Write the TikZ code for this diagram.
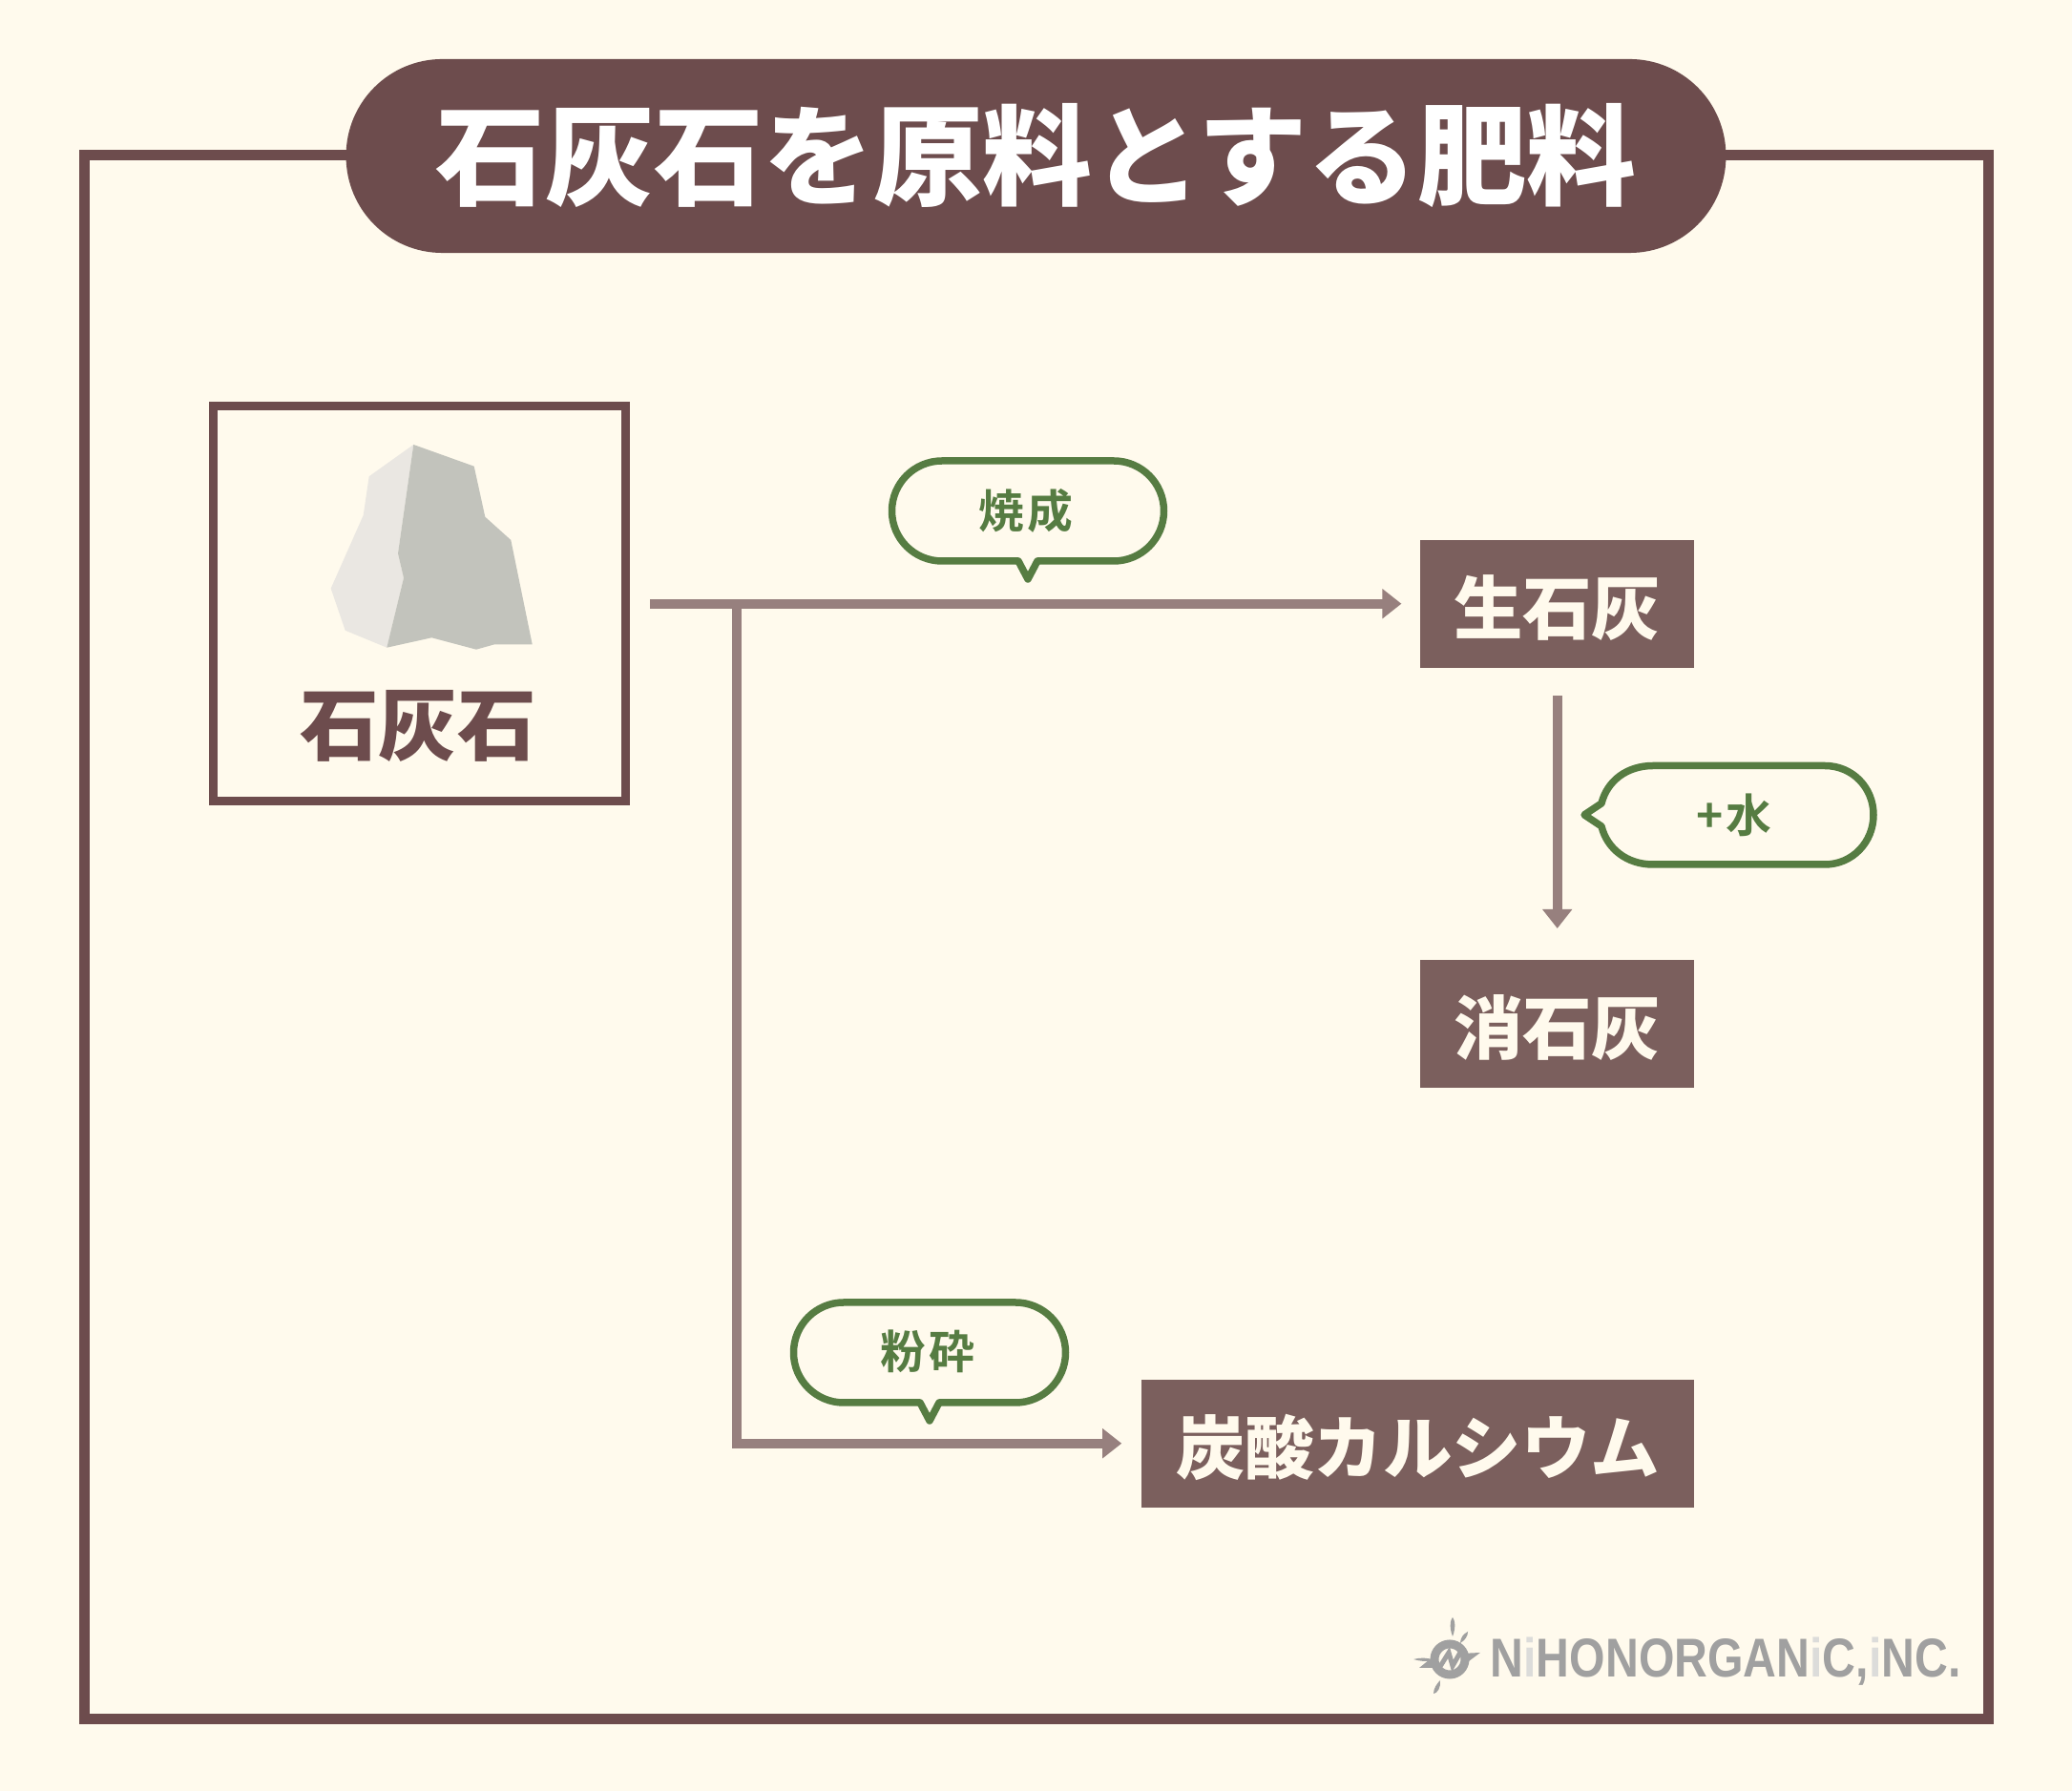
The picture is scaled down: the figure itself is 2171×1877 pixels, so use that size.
\documentclass[tikz,border=0pt]{standalone}
\usepackage{fontspec}
\setmainfont{Noto Sans CJK JP}[BoldFont={Noto Sans CJK JP Black}]
\newfontfamily\jp{Noto Sans CJK JP}[BoldFont={Noto Sans CJK JP Black}]
\newfontfamily\jpsp{Noto Sans CJK JP}[BoldFont={Noto Sans CJK JP Bold},LetterSpace=6]
\newfontfamily\logofont{Liberation Sans}
\usetikzlibrary{arrows.meta}
\definecolor{bgc}{HTML}{FFFAED}
\definecolor{brownc}{HTML}{6D4C4D}
\definecolor{boxc}{HTML}{7B5F5D}
\definecolor{arrowc}{HTML}{97807E}
\definecolor{greenc}{HTML}{567C42}
\definecolor{rockl}{HTML}{EAE7E2}
\definecolor{rockd}{HTML}{C2C3BC}
\definecolor{logoc}{HTML}{A0A0A0}
\definecolor{logol}{HTML}{DCDCDA}
\tikzset{
  x=0.01cm,y=-0.01cm,
  px/.style={line width=#1*0.01cm},
  frameline/.style={draw=brownc,px=11},
  flow/.style={draw=arrowc,px=10,-{Triangle[length=0.2cm,width=0.3cm]}},
  bubble/.style={draw=greenc,px=7.5,line join=round},
  bubbletext/.style={text=greenc,font=\jpsp\bfseries\fontsize{13.6pt}{14pt}\selectfont,inner sep=0pt},
  chem/.style={fill=boxc,text=bgc,font=\jp\bfseries\fontsize{20.6pt}{22pt}\selectfont,inner sep=0pt,minimum height=1.34cm,anchor=north east,text height=0.7cm,text depth=0.07cm},
}
\begin{document}
\begin{tikzpicture}
\fill[bgc] (0,0) rectangle (2171,1877);
\useasboundingbox (0,0) rectangle (2171,1877);
% outer frame
\draw[frameline] (88.5,162.5) rectangle (2083.5,1801.5);
% title
\node[fill=brownc,text=white,rounded corners=1.01cm,minimum width=14.45cm,minimum height=2.03cm,inner sep=0pt,font=\jp\bfseries\fontsize{32.6pt}{34pt}\selectfont] (title) at (1085.5,163.5) {石灰石を原料とする肥料};
% limestone box
\node[draw=brownc,px=9,minimum width=4.32cm,minimum height=4.14cm,inner sep=0pt] (lime) at (439.5,632.5) {};
\fill[rockl] (433.3,466) -- (386.7,499.3) -- (380.7,540) -- (346.7,616.7) -- (361.7,660.7) -- (405.3,678.7) -- (423,605.7) -- (417,580) -- cycle;
\fill[rockd] (433.3,466) -- (496.7,488.7) -- (508.3,541.7) -- (535.3,566) -- (557.7,675.3) -- (518.3,675.3) -- (499,680.7) -- (452.3,668.3) -- (405.3,678.7) -- (423,605.7) -- (417,580) -- cycle;
\node[text=brownc,inner sep=0pt,font=\jp\bfseries\fontsize{23.5pt}{25pt}\selectfont] (limelabel) at (438,761) {石灰石};
% product boxes
\node[chem,minimum width=2.87cm] (quick) at (1776,565) {生石灰};
\node[chem,minimum width=2.87cm] (slaked) at (1776,1005) {消石灰};
\node[chem,minimum width=5.79cm] (calc) at (1776,1445) {炭酸カルシウム};
% connectors
\coordinate (branch) at (772,632);
\draw[flow,shorten <=0.21cm,shorten >=0.19cm] (lime.east |- quick.west) -- (quick.west);
\draw[flow,shorten >=0.20cm] (branch) |- (calc.west);
\draw[flow,shorten <=0.29cm,shorten >=0.32cm] (quick.south) -- (slaked.north);
% bubble: firing
\draw[bubble] (987,483) -- (1167,483) .. controls (1196,483) and (1219.5,506.5) .. (1219.5,535.5) .. controls (1219.5,564.5) and (1196,588) .. (1167,588) -- (1087,588) -- (1077,607) -- (1067,588) -- (987,588) .. controls (958,588) and (934.5,564.5) .. (934.5,535.5) .. controls (934.5,506.5) and (958,483) .. (987,483) -- cycle;
\node[bubbletext] (fire) at (1075,535) {焼成};
% bubble: crushing
\begin{scope}[shift={(-103,882)}]
\draw[bubble] (987,483) -- (1167,483) .. controls (1196,483) and (1219.5,506.5) .. (1219.5,535.5) .. controls (1219.5,564.5) and (1196,588) .. (1167,588) -- (1087,588) -- (1077,607) -- (1067,588) -- (987,588) .. controls (958,588) and (934.5,564.5) .. (934.5,535.5) .. controls (934.5,506.5) and (958,483) .. (987,483) -- cycle;
\node[bubbletext] (crush) at (1075,534) {粉砕};
\end{scope}
% bubble: water
\draw[bubble] (1732,802.5) -- (1912,802.5) .. controls (1941,802.5) and (1963,825.5) .. (1963,854) .. controls (1963,882.5) and (1941,906) .. (1912,906) -- (1732,906) .. controls (1705,906) and (1684,890) .. (1678,866) -- (1660,854) -- (1678,842) .. controls (1684,818) and (1705,802.5) .. (1732,802.5) -- cycle;
\node[bubbletext] (water) at (1817,854) {+\kern0.02cm 水};
% logo
\begin{scope}
\draw[logoc,px=9] (1519,1739) circle (16);
\draw[logoc,px=5,line cap=round] (1508,1748) -- (1518,1732) -- (1522,1746) -- (1531,1730);
\fill[logoc] (1551,1732) -- (1530,1733) -- (1535,1744) -- cycle;
\fill[logoc] (1487,1748) -- (1508,1731) -- (1505,1748) -- cycle;
\fill[logoc] (1522,1715) .. controls (1518,1705) and (1520,1697) .. (1522,1695) .. controls (1524,1697) and (1526,1705) .. (1522,1715) -- cycle;
\fill[logoc] (1530,1722) .. controls (1530,1716) and (1534,1712) .. (1538,1710) .. controls (1538,1715) and (1535,1719) .. (1530,1722) -- cycle;
\fill[logoc] (1502,1740) .. controls (1496,1742) and (1488,1741) .. (1481,1739) .. controls (1488,1737) and (1496,1737) .. (1502,1740) -- cycle;
\fill[logoc] (1509,1761) .. controls (1510,1768) and (1506,1775) .. (1502,1775) .. controls (1502,1770) and (1505,1765) .. (1509,1761) -- cycle;
\node[anchor=west,inner sep=0pt,text=logoc,font=\logofont\bfseries\fontsize{16.3pt}{17pt}\selectfont] (logo) at (1561,1741) {\scalebox{0.841}[1]{N\textcolor{logol}{i}HONORGAN\textcolor{logol}{i}C,\textcolor{logol}{i}NC.}};
\end{scope}
\end{tikzpicture}
\end{document}
